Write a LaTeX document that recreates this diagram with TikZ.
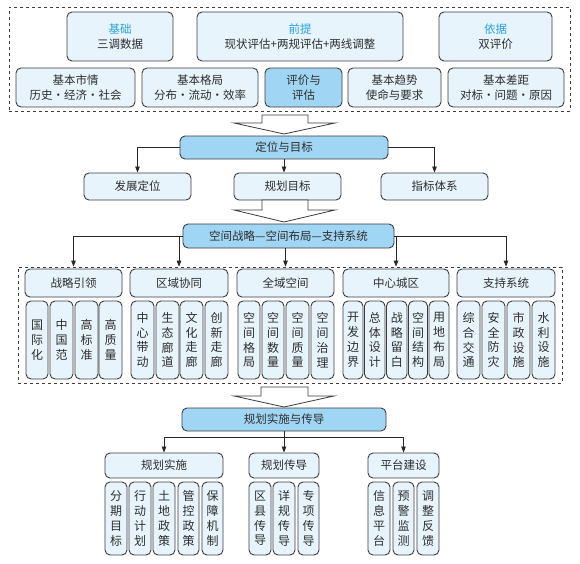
\documentclass[tikz,border=0pt]{standalone}
\usepackage{fontspec}
\setmainfont{Noto Sans CJK SC}
\usetikzlibrary{arrows.meta}
\definecolor{lightb}{RGB}{232,244,252}
\definecolor{darkb}{RGB}{160,214,244}
\definecolor{edgec}{RGB}{60,60,60}
\definecolor{txtc}{RGB}{45,45,45}
\definecolor{hlb}{RGB}{40,160,225}
\newcommand{\DBox}[7]{\node[#6, minimum width={(#4)-(#2)}, minimum height={(#5)-(#3)}] (#1) at ({((#2)+(#4))/2},{((#3)+(#5))/2}) {#7};}
\begin{document}
\begin{tikzpicture}[x=1pt,y=-1pt,
 base/.style={draw=edgec, line width=0.9pt, rounded corners=5pt, inner sep=0pt, text=txtc, align=center, font=\fontsize{11.5}{14.5}\selectfont},
 lbox/.style={base, fill=lightb},
 dbox/.style={base, fill=darkb},
 colbox/.style={lbox, font=\fontsize{12}{14.8}\selectfont},
 frame/.style={draw=edgec, dashed, line width=0.7pt, inner sep=0pt},
 conn/.style={draw=black!85, line width=0.8pt, -{Triangle[length=6pt,width=4.5pt]}},
 hollow/.style={draw=edgec, fill=white, line width=0.8pt},
]
\useasboundingbox (0,0) rectangle (580,563);
% ---------- top section ----------
\DBox{topf}{9}{7}{570}{111}{frame}{}
\DBox{j1}{67}{12}{173}{61}{lbox}{{\color{hlb}基础}\\三调数据}
\DBox{j2}{197}{12}{403}{61}{lbox}{{\color{hlb}前提}\\现状评估+两规评估+两线调整}
\DBox{j3}{439}{12}{552}{61}{lbox}{{\color{hlb}依据}\\双评价}
\DBox{r1}{16}{68}{135}{107}{lbox}{基本市情\\历史·经济·社会}
\DBox{r2}{142}{68}{258}{107}{lbox}{基本格局\\分布·流动·效率}
\DBox{r3}{265}{68}{342}{107}{dbox}{评价与\\评估}
\DBox{r4}{348}{68}{441}{107}{lbox}{基本趋势\\使命与要求}
\DBox{r5}{448}{68}{564}{107}{lbox}{基本差距\\对标·问题·原因}
\draw[hollow] (262,115) -- (308,115) -- (308,123) -- (335,123) -- (284,134) -- (234,123) -- (262,123) -- cycle;
% ---------- positioning ----------
\DBox{dw}{180}{136}{388}{159}{dbox}{定位与目标}
\DBox{fz}{84}{173}{191}{200}{lbox}{发展定位}
\DBox{gh}{234}{173}{341}{200}{lbox}{规划目标}
\DBox{zb}{381}{173}{488}{200}{lbox}{指标体系}
\draw[conn] (dw.west) -| (fz.north);
\draw[conn] (dw.south) -- (gh.north -| dw.south);
\draw[conn] (dw.east) -| (zb.north);
\draw[hollow] (262,200) -- (308,200) -- (308,210) -- (335,210) -- (284,222) -- (234,210) -- (262,210) -- cycle;
% ---------- spatial ----------
\DBox{kj}{183}{224}{394}{248}{dbox}{空间战略—空间布局—支持系统}
\DBox{midf}{18}{267}{562}{383}{frame}{}
\DBox{h1}{25}{269}{122}{297}{lbox}{战略引领}
\DBox{h2}{130}{269}{228}{297}{lbox}{区域协同}
\DBox{h3}{237}{269}{334}{297}{lbox}{全域空间}
\DBox{h4}{343}{269}{449}{297}{lbox}{中心城区}
\DBox{h5}{457}{269}{555}{297}{lbox}{支持系统}
\draw[conn] (kj.west) -| (midf.north -| h1.north);
\draw[conn] (kj.west) -| (midf.north -| h2.north);
\draw[conn] (h3.north |- kj.south) -- (midf.north -| h3.north);
\draw[conn] (kj.east) -| (midf.north -| h4.north);
\draw[conn] (kj.east) -| (midf.north -| h5.north);
\DBox{a1}{26}{301}{48}{379}{colbox}{国\\际\\化}
\DBox{a2}{50}{301}{73}{379}{colbox}{中\\国\\范}
\DBox{a3}{75}{301}{98}{379}{colbox}{高\\标\\准}
\DBox{a4}{99}{301}{122}{379}{colbox}{高\\质\\量}
\DBox{b1}{131}{301}{154}{379}{colbox}{中\\心\\带\\动}
\DBox{b2}{156}{301}{179}{379}{colbox}{生\\态\\廊\\道}
\DBox{b3}{180}{301}{203}{379}{colbox}{文\\化\\走\\廊}
\DBox{b4}{205}{301}{228}{379}{colbox}{创\\新\\走\\廊}
\DBox{c1}{238}{301}{260}{379}{colbox}{空\\间\\格\\局}
\DBox{c2}{262}{301}{284}{379}{colbox}{空\\间\\数\\量}
\DBox{c3}{286}{301}{309}{379}{colbox}{空\\间\\质\\量}
\DBox{c4}{311}{301}{334}{379}{colbox}{空\\间\\治\\理}
\DBox{d1}{343}{301}{363}{379}{colbox}{开\\发\\边\\界}
\DBox{d2}{364.5}{301}{385}{379}{colbox}{总\\体\\设\\计}
\DBox{d3}{386.5}{301}{407}{379}{colbox}{战\\略\\留\\白}
\DBox{d4}{408.5}{301}{427.5}{379}{colbox}{空\\间\\结\\构}
\DBox{d5}{429}{301}{449}{379}{colbox}{用\\地\\布\\局}
\DBox{e1}{457}{301}{480}{379}{colbox}{综\\合\\交\\通}
\DBox{e2}{482}{301}{505}{379}{colbox}{安\\全\\防\\灾}
\DBox{e3}{507}{301}{530}{379}{colbox}{市\\政\\设\\施}
\DBox{e4}{532}{301}{555}{379}{colbox}{水\\利\\设\\施}
\draw[hollow] (261,387) -- (308,387) -- (308,396) -- (334,396) -- (284,407) -- (234,396) -- (261,396) -- cycle;
% ---------- implementation ----------
\DBox{ss}{182}{408}{386}{431}{dbox}{规划实施与传导}
\DBox{p1}{105}{453}{223}{478}{lbox}{规划实施}
\DBox{p2}{249}{453}{319}{478}{lbox}{规划传导}
\DBox{p3}{368}{453}{439}{478}{lbox}{平台建设}
\draw[conn] (ss.south) -- ++(0,6) -| (p1.north);
\draw[conn] (ss.south) -- (p2.north);
\draw[conn] (ss.south) -- ++(0,6) -| (p3.north);
\DBox{f1}{105}{482}{127}{555}{colbox}{分\\期\\目\\标}
\DBox{f2}{129}{482}{151}{555}{colbox}{行\\动\\计\\划}
\DBox{f3}{153}{482}{175}{555}{colbox}{土\\地\\政\\策}
\DBox{f4}{178}{482}{199}{555}{colbox}{管\\控\\政\\策}
\DBox{f5}{202}{482}{223}{555}{colbox}{保\\障\\机\\制}
\DBox{g1}{249}{482}{271}{555}{colbox}{区\\县\\传\\导}
\DBox{g2}{273}{482}{295}{555}{colbox}{详\\规\\传\\导}
\DBox{g3}{298}{482}{319}{555}{colbox}{专\\项\\传\\导}
\DBox{k1}{368}{482}{390}{555}{colbox}{信\\息\\平\\台}
\DBox{k2}{393}{482}{414}{555}{colbox}{预\\警\\监\\测}
\DBox{k3}{417}{482}{439}{555}{colbox}{调\\整\\反\\馈}
\end{tikzpicture}
\end{document}
